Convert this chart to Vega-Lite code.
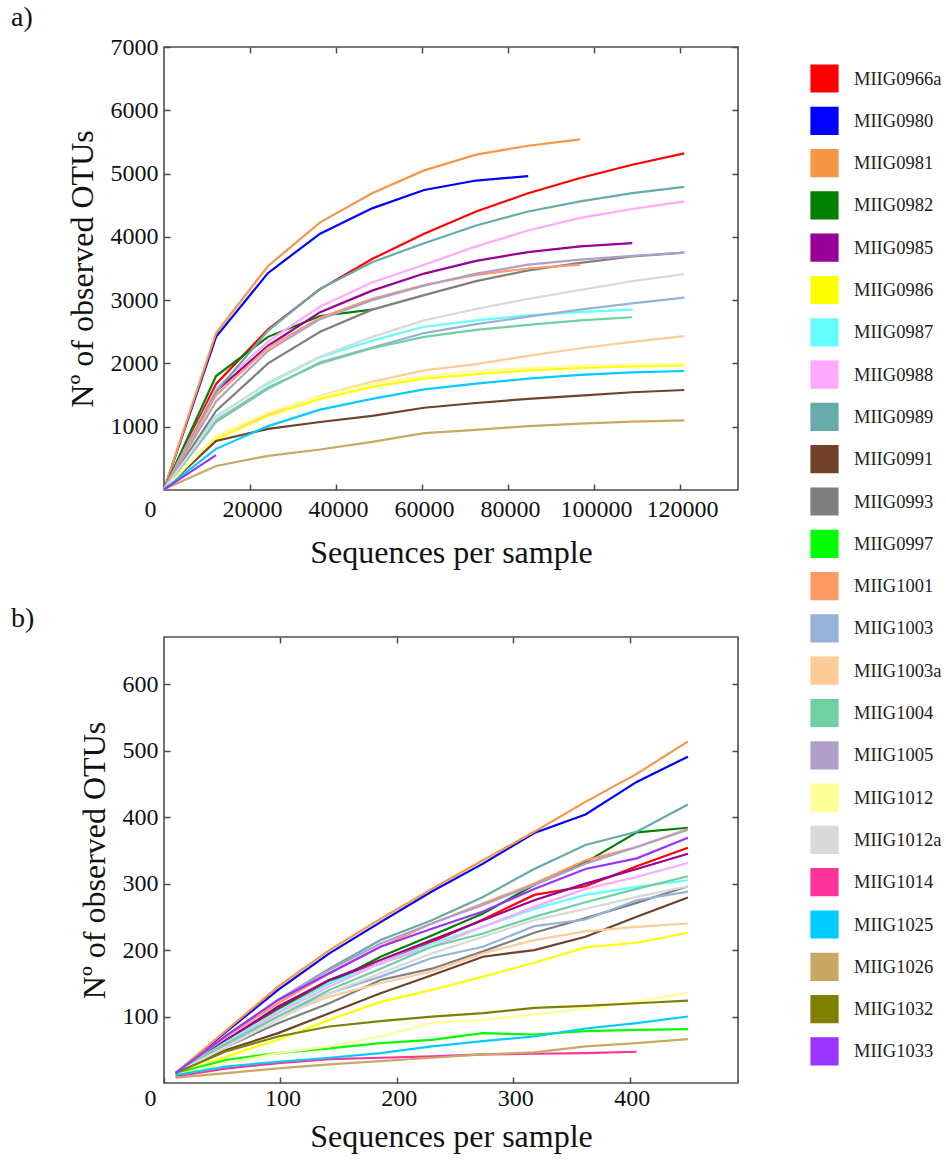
{
"$schema": "https://vega.github.io/schema/vega-lite/v6.json",
"padding": {"left": 10, "top": 3, "right": 2, "bottom": 2},
"bounds": "flush",
"spacing": 147,
"config": {
 "font": "Liberation Serif",
 "view": {"stroke": "#4d4d4d", "strokeWidth": 1.6},
 "axis": {"labelFont": "Liberation Serif", "labelFontSize": 24, "labelColor": "#111", "titleFont": "Liberation Serif", "titleFontSize": 32, "titleFontWeight": "normal", "titleColor": "#111", "grid": false, "domain": false, "tickColor": "#4d4d4d", "tickSize": -6, "tickWidth": 1.5, "labelFlush": false, "labelOverlap": false},
 "legend": {"title": null, "orient": "none", "legendX": 646, "legendY": 17, "symbolType": "M-1,-1H1V1H-1Z M-0.9,-0.9H0.9V0.9H-0.9Z M-0.8,-0.8H0.8V0.8H-0.8Z M-0.7,-0.7H0.7V0.7H-0.7Z M-0.6,-0.6H0.6V0.6H-0.6Z M-0.5,-0.5H0.5V0.5H-0.5Z M-0.4,-0.4H0.4V0.4H-0.4Z M-0.3,-0.3H0.3V0.3H-0.3Z M-0.2,-0.2H0.2V0.2H-0.2Z M-0.1,-0.1H0.1V0.1H-0.1Z M-0.03,0H0.03", "symbolSize": 676, "labelFont": "Liberation Serif", "labelFontSize": 18.5, "labelColor": "#222", "labelOffset": 15, "rowPadding": 7.3, "padding": 0},
 "title": {"font": "Liberation Serif", "fontSize": 28, "fontWeight": "normal", "anchor": "start", "frame": "group", "dx": -153, "dy": -4, "offset": -1, "color": "#111"},
 "line": {"strokeWidth": 2.2}
},
"datasets": {
"a": [
{"s":"MIIG0966a","x":10,"y":10},{"s":"MIIG0966a","x":12109,"y":1675},{"s":"MIIG0966a","x":24208,"y":2540},{"s":"MIIG0966a","x":36307,"y":3175},{"s":"MIIG0966a","x":48406,"y":3650},{"s":"MIIG0966a","x":60505,"y":4050},{"s":"MIIG0966a","x":72604,"y":4400},{"s":"MIIG0966a","x":84703,"y":4690},{"s":"MIIG0966a","x":96802,"y":4930},{"s":"MIIG0966a","x":108901,"y":5140},{"s":"MIIG0966a","x":121000,"y":5320},
{"s":"MIIG0980","x":10,"y":10},{"s":"MIIG0980","x":12109,"y":2420},{"s":"MIIG0980","x":24208,"y":3430},{"s":"MIIG0980","x":36307,"y":4050},{"s":"MIIG0980","x":48406,"y":4450},{"s":"MIIG0980","x":60505,"y":4740},{"s":"MIIG0980","x":72604,"y":4890},{"s":"MIIG0980","x":84703,"y":4960},
{"s":"MIIG0981","x":10,"y":10},{"s":"MIIG0981","x":12109,"y":2480},{"s":"MIIG0981","x":24208,"y":3540},{"s":"MIIG0981","x":36307,"y":4230},{"s":"MIIG0981","x":48406,"y":4690},{"s":"MIIG0981","x":60505,"y":5050},{"s":"MIIG0981","x":72604,"y":5300},{"s":"MIIG0981","x":84703,"y":5440},{"s":"MIIG0981","x":96802,"y":5540},
{"s":"MIIG0982","x":10,"y":10},{"s":"MIIG0982","x":12109,"y":1800},{"s":"MIIG0982","x":24208,"y":2420},{"s":"MIIG0982","x":36307,"y":2750},{"s":"MIIG0982","x":48406,"y":2850},
{"s":"MIIG0985","x":10,"y":10},{"s":"MIIG0985","x":12109,"y":1560},{"s":"MIIG0985","x":24208,"y":2280},{"s":"MIIG0985","x":36307,"y":2810},{"s":"MIIG0985","x":48406,"y":3150},{"s":"MIIG0985","x":60505,"y":3420},{"s":"MIIG0985","x":72604,"y":3620},{"s":"MIIG0985","x":84703,"y":3760},{"s":"MIIG0985","x":96802,"y":3850},{"s":"MIIG0985","x":108901,"y":3900},
{"s":"MIIG0986","x":10,"y":10},{"s":"MIIG0986","x":12109,"y":800},{"s":"MIIG0986","x":24208,"y":1170},{"s":"MIIG0986","x":36307,"y":1440},{"s":"MIIG0986","x":48406,"y":1630},{"s":"MIIG0986","x":60505,"y":1760},{"s":"MIIG0986","x":72604,"y":1830},{"s":"MIIG0986","x":84703,"y":1890},{"s":"MIIG0986","x":96802,"y":1930},{"s":"MIIG0986","x":108901,"y":1955},{"s":"MIIG0986","x":121000,"y":1970},
{"s":"MIIG0987","x":10,"y":10},{"s":"MIIG0987","x":12109,"y":1170},{"s":"MIIG0987","x":24208,"y":1680},{"s":"MIIG0987","x":36307,"y":2100},{"s":"MIIG0987","x":48406,"y":2360},{"s":"MIIG0987","x":60505,"y":2580},{"s":"MIIG0987","x":72604,"y":2680},{"s":"MIIG0987","x":84703,"y":2760},{"s":"MIIG0987","x":96802,"y":2810},{"s":"MIIG0987","x":108901,"y":2850},
{"s":"MIIG0988","x":10,"y":10},{"s":"MIIG0988","x":12109,"y":1600},{"s":"MIIG0988","x":24208,"y":2350},{"s":"MIIG0988","x":36307,"y":2900},{"s":"MIIG0988","x":48406,"y":3280},{"s":"MIIG0988","x":60505,"y":3560},{"s":"MIIG0988","x":72604,"y":3850},{"s":"MIIG0988","x":84703,"y":4100},{"s":"MIIG0988","x":96802,"y":4300},{"s":"MIIG0988","x":108901,"y":4440},{"s":"MIIG0988","x":121000,"y":4560},
{"s":"MIIG0989","x":10,"y":10},{"s":"MIIG0989","x":12109,"y":1550},{"s":"MIIG0989","x":24208,"y":2520},{"s":"MIIG0989","x":36307,"y":3180},{"s":"MIIG0989","x":48406,"y":3600},{"s":"MIIG0989","x":60505,"y":3900},{"s":"MIIG0989","x":72604,"y":4180},{"s":"MIIG0989","x":84703,"y":4400},{"s":"MIIG0989","x":96802,"y":4560},{"s":"MIIG0989","x":108901,"y":4690},{"s":"MIIG0989","x":121000,"y":4790},
{"s":"MIIG0991","x":10,"y":10},{"s":"MIIG0991","x":12109,"y":775},{"s":"MIIG0991","x":24208,"y":965},{"s":"MIIG0991","x":36307,"y":1075},{"s":"MIIG0991","x":48406,"y":1170},{"s":"MIIG0991","x":60505,"y":1300},{"s":"MIIG0991","x":72604,"y":1375},{"s":"MIIG0991","x":84703,"y":1440},{"s":"MIIG0991","x":96802,"y":1490},{"s":"MIIG0991","x":108901,"y":1545},{"s":"MIIG0991","x":121000,"y":1580},
{"s":"MIIG0993","x":10,"y":10},{"s":"MIIG0993","x":12109,"y":1250},{"s":"MIIG0993","x":24208,"y":2000},{"s":"MIIG0993","x":36307,"y":2500},{"s":"MIIG0993","x":48406,"y":2850},{"s":"MIIG0993","x":60505,"y":3080},{"s":"MIIG0993","x":72604,"y":3300},{"s":"MIIG0993","x":84703,"y":3470},{"s":"MIIG0993","x":96802,"y":3590},{"s":"MIIG0993","x":108901,"y":3690},{"s":"MIIG0993","x":121000,"y":3750},
{"s":"MIIG1001","x":10,"y":10},{"s":"MIIG1001","x":12109,"y":1500},{"s":"MIIG1001","x":24208,"y":2250},{"s":"MIIG1001","x":36307,"y":2720},{"s":"MIIG1001","x":48406,"y":3020},{"s":"MIIG1001","x":60505,"y":3240},{"s":"MIIG1001","x":72604,"y":3400},{"s":"MIIG1001","x":84703,"y":3500},{"s":"MIIG1001","x":96802,"y":3560},
{"s":"MIIG1003","x":10,"y":10},{"s":"MIIG1003","x":12109,"y":1075},{"s":"MIIG1003","x":24208,"y":1600},{"s":"MIIG1003","x":36307,"y":2020},{"s":"MIIG1003","x":48406,"y":2250},{"s":"MIIG1003","x":60505,"y":2480},{"s":"MIIG1003","x":72604,"y":2620},{"s":"MIIG1003","x":84703,"y":2740},{"s":"MIIG1003","x":96802,"y":2850},{"s":"MIIG1003","x":108901,"y":2950},{"s":"MIIG1003","x":121000,"y":3040},
{"s":"MIIG1003a","x":10,"y":10},{"s":"MIIG1003a","x":12109,"y":850},{"s":"MIIG1003a","x":24208,"y":1200},{"s":"MIIG1003a","x":36307,"y":1490},{"s":"MIIG1003a","x":48406,"y":1710},{"s":"MIIG1003a","x":60505,"y":1890},{"s":"MIIG1003a","x":72604,"y":1990},{"s":"MIIG1003a","x":84703,"y":2120},{"s":"MIIG1003a","x":96802,"y":2240},{"s":"MIIG1003a","x":108901,"y":2340},{"s":"MIIG1003a","x":121000,"y":2430},
{"s":"MIIG1004","x":10,"y":10},{"s":"MIIG1004","x":12109,"y":1100},{"s":"MIIG1004","x":24208,"y":1620},{"s":"MIIG1004","x":36307,"y":2000},{"s":"MIIG1004","x":48406,"y":2240},{"s":"MIIG1004","x":60505,"y":2420},{"s":"MIIG1004","x":72604,"y":2530},{"s":"MIIG1004","x":84703,"y":2610},{"s":"MIIG1004","x":96802,"y":2680},{"s":"MIIG1004","x":108901,"y":2730},
{"s":"MIIG1005","x":10,"y":10},{"s":"MIIG1005","x":12109,"y":1400},{"s":"MIIG1005","x":24208,"y":2200},{"s":"MIIG1005","x":36307,"y":2700},{"s":"MIIG1005","x":48406,"y":3000},{"s":"MIIG1005","x":60505,"y":3230},{"s":"MIIG1005","x":72604,"y":3420},{"s":"MIIG1005","x":84703,"y":3560},{"s":"MIIG1005","x":96802,"y":3640},{"s":"MIIG1005","x":108901,"y":3700},{"s":"MIIG1005","x":121000,"y":3750},
{"s":"MIIG1012","x":10,"y":10},{"s":"MIIG1012","x":12109,"y":850},{"s":"MIIG1012","x":24208,"y":1230},{"s":"MIIG1012","x":36307,"y":1480},{"s":"MIIG1012","x":48406,"y":1680},{"s":"MIIG1012","x":60505,"y":1800},{"s":"MIIG1012","x":72604,"y":1880},{"s":"MIIG1012","x":84703,"y":1930},{"s":"MIIG1012","x":96802,"y":1960},{"s":"MIIG1012","x":108901,"y":1980},{"s":"MIIG1012","x":121000,"y":1995},
{"s":"MIIG1012a","x":10,"y":10},{"s":"MIIG1012a","x":12109,"y":1150},{"s":"MIIG1012a","x":24208,"y":1700},{"s":"MIIG1012a","x":36307,"y":2110},{"s":"MIIG1012a","x":48406,"y":2420},{"s":"MIIG1012a","x":60505,"y":2680},{"s":"MIIG1012a","x":72604,"y":2860},{"s":"MIIG1012a","x":84703,"y":3020},{"s":"MIIG1012a","x":96802,"y":3160},{"s":"MIIG1012a","x":108901,"y":3300},{"s":"MIIG1012a","x":121000,"y":3410},
{"s":"MIIG1025","x":10,"y":10},{"s":"MIIG1025","x":12109,"y":650},{"s":"MIIG1025","x":24208,"y":1010},{"s":"MIIG1025","x":36307,"y":1270},{"s":"MIIG1025","x":48406,"y":1440},{"s":"MIIG1025","x":60505,"y":1590},{"s":"MIIG1025","x":72604,"y":1680},{"s":"MIIG1025","x":84703,"y":1760},{"s":"MIIG1025","x":96802,"y":1820},{"s":"MIIG1025","x":108901,"y":1860},{"s":"MIIG1025","x":121000,"y":1880},
{"s":"MIIG1026","x":10,"y":10},{"s":"MIIG1026","x":12109,"y":380},{"s":"MIIG1026","x":24208,"y":540},{"s":"MIIG1026","x":36307,"y":640},{"s":"MIIG1026","x":48406,"y":760},{"s":"MIIG1026","x":60505,"y":900},{"s":"MIIG1026","x":72604,"y":950},{"s":"MIIG1026","x":84703,"y":1010},{"s":"MIIG1026","x":96802,"y":1050},{"s":"MIIG1026","x":108901,"y":1080},{"s":"MIIG1026","x":121000,"y":1100},
{"s":"MIIG1033","x":10,"y":10},{"s":"MIIG1033","x":12109,"y":550}
],
"b": [
{"s":"MIIG0966a","x":10,"y":15},{"s":"MIIG0966a","x":54,"y":65},{"s":"MIIG0966a","x":98,"y":112},{"s":"MIIG0966a","x":142,"y":155},{"s":"MIIG0966a","x":186,"y":180},{"s":"MIIG0966a","x":230,"y":212},{"s":"MIIG0966a","x":274,"y":246},{"s":"MIIG0966a","x":318,"y":283},{"s":"MIIG0966a","x":362,"y":296},{"s":"MIIG0966a","x":406,"y":326},{"s":"MIIG0966a","x":450,"y":354},
{"s":"MIIG0980","x":10,"y":15},{"s":"MIIG0980","x":54,"y":78},{"s":"MIIG0980","x":98,"y":140},{"s":"MIIG0980","x":142,"y":195},{"s":"MIIG0980","x":186,"y":242},{"s":"MIIG0980","x":230,"y":288},{"s":"MIIG0980","x":274,"y":330},{"s":"MIIG0980","x":318,"y":376},{"s":"MIIG0980","x":362,"y":404},{"s":"MIIG0980","x":406,"y":453},{"s":"MIIG0980","x":450,"y":491},
{"s":"MIIG0981","x":10,"y":15},{"s":"MIIG0981","x":54,"y":80},{"s":"MIIG0981","x":98,"y":145},{"s":"MIIG0981","x":142,"y":200},{"s":"MIIG0981","x":186,"y":247},{"s":"MIIG0981","x":230,"y":292},{"s":"MIIG0981","x":274,"y":335},{"s":"MIIG0981","x":318,"y":378},{"s":"MIIG0981","x":362,"y":423},{"s":"MIIG0981","x":406,"y":465},{"s":"MIIG0981","x":450,"y":514},
{"s":"MIIG0982","x":10,"y":15},{"s":"MIIG0982","x":54,"y":60},{"s":"MIIG0982","x":98,"y":110},{"s":"MIIG0982","x":142,"y":150},{"s":"MIIG0982","x":186,"y":190},{"s":"MIIG0982","x":230,"y":222},{"s":"MIIG0982","x":274,"y":255},{"s":"MIIG0982","x":318,"y":298},{"s":"MIIG0982","x":362,"y":332},{"s":"MIIG0982","x":406,"y":377},{"s":"MIIG0982","x":450,"y":384},
{"s":"MIIG0985","x":10,"y":15},{"s":"MIIG0985","x":54,"y":65},{"s":"MIIG0985","x":98,"y":115},{"s":"MIIG0985","x":142,"y":155},{"s":"MIIG0985","x":186,"y":185},{"s":"MIIG0985","x":230,"y":215},{"s":"MIIG0985","x":274,"y":245},{"s":"MIIG0985","x":318,"y":275},{"s":"MIIG0985","x":362,"y":300},{"s":"MIIG0985","x":406,"y":322},{"s":"MIIG0985","x":450,"y":345},
{"s":"MIIG0986","x":10,"y":12},{"s":"MIIG0986","x":54,"y":40},{"s":"MIIG0986","x":98,"y":65},{"s":"MIIG0986","x":142,"y":95},{"s":"MIIG0986","x":186,"y":122},{"s":"MIIG0986","x":230,"y":140},{"s":"MIIG0986","x":274,"y":160},{"s":"MIIG0986","x":318,"y":181},{"s":"MIIG0986","x":362,"y":204},{"s":"MIIG0986","x":406,"y":211},{"s":"MIIG0986","x":450,"y":226},
{"s":"MIIG0987","x":10,"y":15},{"s":"MIIG0987","x":54,"y":62},{"s":"MIIG0987","x":98,"y":108},{"s":"MIIG0987","x":142,"y":150},{"s":"MIIG0987","x":186,"y":180},{"s":"MIIG0987","x":230,"y":210},{"s":"MIIG0987","x":274,"y":235},{"s":"MIIG0987","x":318,"y":262},{"s":"MIIG0987","x":362,"y":283},{"s":"MIIG0987","x":406,"y":295},{"s":"MIIG0987","x":450,"y":305},
{"s":"MIIG0988","x":10,"y":15},{"s":"MIIG0988","x":54,"y":60},{"s":"MIIG0988","x":98,"y":105},{"s":"MIIG0988","x":142,"y":145},{"s":"MIIG0988","x":186,"y":180},{"s":"MIIG0988","x":230,"y":205},{"s":"MIIG0988","x":274,"y":235},{"s":"MIIG0988","x":318,"y":265},{"s":"MIIG0988","x":362,"y":292},{"s":"MIIG0988","x":406,"y":310},{"s":"MIIG0988","x":450,"y":331},
{"s":"MIIG0989","x":10,"y":15},{"s":"MIIG0989","x":54,"y":70},{"s":"MIIG0989","x":98,"y":125},{"s":"MIIG0989","x":142,"y":172},{"s":"MIIG0989","x":186,"y":215},{"s":"MIIG0989","x":230,"y":245},{"s":"MIIG0989","x":274,"y":280},{"s":"MIIG0989","x":318,"y":322},{"s":"MIIG0989","x":362,"y":358},{"s":"MIIG0989","x":406,"y":378},{"s":"MIIG0989","x":450,"y":419},
{"s":"MIIG0991","x":10,"y":15},{"s":"MIIG0991","x":54,"y":50},{"s":"MIIG0991","x":98,"y":75},{"s":"MIIG0991","x":142,"y":105},{"s":"MIIG0991","x":186,"y":135},{"s":"MIIG0991","x":230,"y":162},{"s":"MIIG0991","x":274,"y":190},{"s":"MIIG0991","x":318,"y":200},{"s":"MIIG0991","x":362,"y":220},{"s":"MIIG0991","x":406,"y":250},{"s":"MIIG0991","x":450,"y":279},
{"s":"MIIG0993","x":10,"y":15},{"s":"MIIG0993","x":54,"y":55},{"s":"MIIG0993","x":98,"y":90},{"s":"MIIG0993","x":142,"y":120},{"s":"MIIG0993","x":186,"y":155},{"s":"MIIG0993","x":230,"y":172},{"s":"MIIG0993","x":274,"y":198},{"s":"MIIG0993","x":318,"y":226},{"s":"MIIG0993","x":362,"y":248},{"s":"MIIG0993","x":406,"y":271},{"s":"MIIG0993","x":450,"y":296},
{"s":"MIIG0997","x":10,"y":15},{"s":"MIIG0997","x":54,"y":35},{"s":"MIIG0997","x":98,"y":45},{"s":"MIIG0997","x":142,"y":52},{"s":"MIIG0997","x":186,"y":60},{"s":"MIIG0997","x":230,"y":65},{"s":"MIIG0997","x":274,"y":75},{"s":"MIIG0997","x":318,"y":73},{"s":"MIIG0997","x":362,"y":78},{"s":"MIIG0997","x":406,"y":80},{"s":"MIIG0997","x":450,"y":81},
{"s":"MIIG1001","x":10,"y":15},{"s":"MIIG1001","x":54,"y":70},{"s":"MIIG1001","x":98,"y":120},{"s":"MIIG1001","x":142,"y":165},{"s":"MIIG1001","x":186,"y":205},{"s":"MIIG1001","x":230,"y":240},{"s":"MIIG1001","x":274,"y":270},{"s":"MIIG1001","x":318,"y":300},{"s":"MIIG1001","x":362,"y":335},{"s":"MIIG1001","x":406,"y":355},{"s":"MIIG1001","x":450,"y":382},
{"s":"MIIG1003","x":10,"y":15},{"s":"MIIG1003","x":54,"y":58},{"s":"MIIG1003","x":98,"y":100},{"s":"MIIG1003","x":142,"y":135},{"s":"MIIG1003","x":186,"y":160},{"s":"MIIG1003","x":230,"y":188},{"s":"MIIG1003","x":274,"y":205},{"s":"MIIG1003","x":318,"y":236},{"s":"MIIG1003","x":362,"y":246},{"s":"MIIG1003","x":406,"y":275},{"s":"MIIG1003","x":450,"y":288},
{"s":"MIIG1003a","x":10,"y":15},{"s":"MIIG1003a","x":54,"y":60},{"s":"MIIG1003a","x":98,"y":100},{"s":"MIIG1003a","x":142,"y":130},{"s":"MIIG1003a","x":186,"y":150},{"s":"MIIG1003a","x":230,"y":168},{"s":"MIIG1003a","x":274,"y":195},{"s":"MIIG1003a","x":318,"y":215},{"s":"MIIG1003a","x":362,"y":228},{"s":"MIIG1003a","x":406,"y":235},{"s":"MIIG1003a","x":450,"y":240},
{"s":"MIIG1004","x":10,"y":15},{"s":"MIIG1004","x":54,"y":60},{"s":"MIIG1004","x":98,"y":100},{"s":"MIIG1004","x":142,"y":140},{"s":"MIIG1004","x":186,"y":172},{"s":"MIIG1004","x":230,"y":205},{"s":"MIIG1004","x":274,"y":225},{"s":"MIIG1004","x":318,"y":250},{"s":"MIIG1004","x":362,"y":272},{"s":"MIIG1004","x":406,"y":292},{"s":"MIIG1004","x":450,"y":311},
{"s":"MIIG1005","x":10,"y":15},{"s":"MIIG1005","x":54,"y":72},{"s":"MIIG1005","x":98,"y":125},{"s":"MIIG1005","x":142,"y":170},{"s":"MIIG1005","x":186,"y":210},{"s":"MIIG1005","x":230,"y":240},{"s":"MIIG1005","x":274,"y":268},{"s":"MIIG1005","x":318,"y":298},{"s":"MIIG1005","x":362,"y":330},{"s":"MIIG1005","x":406,"y":355},{"s":"MIIG1005","x":450,"y":381},
{"s":"MIIG1012","x":10,"y":12},{"s":"MIIG1012","x":54,"y":30},{"s":"MIIG1012","x":98,"y":45},{"s":"MIIG1012","x":142,"y":55},{"s":"MIIG1012","x":186,"y":70},{"s":"MIIG1012","x":230,"y":90},{"s":"MIIG1012","x":274,"y":95},{"s":"MIIG1012","x":318,"y":103},{"s":"MIIG1012","x":362,"y":112},{"s":"MIIG1012","x":406,"y":122},{"s":"MIIG1012","x":450,"y":136},
{"s":"MIIG1012a","x":10,"y":15},{"s":"MIIG1012a","x":54,"y":55},{"s":"MIIG1012a","x":98,"y":95},{"s":"MIIG1012a","x":142,"y":135},{"s":"MIIG1012a","x":186,"y":165},{"s":"MIIG1012a","x":230,"y":195},{"s":"MIIG1012a","x":274,"y":220},{"s":"MIIG1012a","x":318,"y":245},{"s":"MIIG1012a","x":362,"y":262},{"s":"MIIG1012a","x":406,"y":280},{"s":"MIIG1012a","x":450,"y":296},
{"s":"MIIG1014","x":10,"y":10},{"s":"MIIG1014","x":54,"y":22},{"s":"MIIG1014","x":98,"y":30},{"s":"MIIG1014","x":142,"y":36},{"s":"MIIG1014","x":186,"y":38},{"s":"MIIG1014","x":230,"y":40},{"s":"MIIG1014","x":274,"y":43},{"s":"MIIG1014","x":318,"y":44},{"s":"MIIG1014","x":362,"y":45},{"s":"MIIG1014","x":406,"y":47},
{"s":"MIIG1025","x":10,"y":12},{"s":"MIIG1025","x":54,"y":25},{"s":"MIIG1025","x":98,"y":32},{"s":"MIIG1025","x":142,"y":38},{"s":"MIIG1025","x":186,"y":45},{"s":"MIIG1025","x":230,"y":55},{"s":"MIIG1025","x":274,"y":63},{"s":"MIIG1025","x":318,"y":70},{"s":"MIIG1025","x":362,"y":82},{"s":"MIIG1025","x":406,"y":90},{"s":"MIIG1025","x":450,"y":100},
{"s":"MIIG1026","x":10,"y":8},{"s":"MIIG1026","x":54,"y":15},{"s":"MIIG1026","x":98,"y":22},{"s":"MIIG1026","x":142,"y":28},{"s":"MIIG1026","x":186,"y":33},{"s":"MIIG1026","x":230,"y":38},{"s":"MIIG1026","x":274,"y":43},{"s":"MIIG1026","x":318,"y":46},{"s":"MIIG1026","x":362,"y":55},{"s":"MIIG1026","x":406,"y":60},{"s":"MIIG1026","x":450,"y":66},
{"s":"MIIG1032","x":10,"y":15},{"s":"MIIG1032","x":54,"y":48},{"s":"MIIG1032","x":98,"y":70},{"s":"MIIG1032","x":142,"y":85},{"s":"MIIG1032","x":186,"y":93},{"s":"MIIG1032","x":230,"y":100},{"s":"MIIG1032","x":274,"y":105},{"s":"MIIG1032","x":318,"y":113},{"s":"MIIG1032","x":362,"y":116},{"s":"MIIG1032","x":406,"y":120},{"s":"MIIG1032","x":450,"y":124},
{"s":"MIIG1033","x":10,"y":15},{"s":"MIIG1033","x":54,"y":72},{"s":"MIIG1033","x":98,"y":125},{"s":"MIIG1033","x":142,"y":165},{"s":"MIIG1033","x":186,"y":205},{"s":"MIIG1033","x":230,"y":232},{"s":"MIIG1033","x":274,"y":258},{"s":"MIIG1033","x":318,"y":292},{"s":"MIIG1033","x":362,"y":322},{"s":"MIIG1033","x":406,"y":338},{"s":"MIIG1033","x":450,"y":369}
]
},
"vconcat": [
{
 "title": {"text": "a)"},
 "width": 574, "height": 443,
 "data": {"name": "a"},
 "layer": [
  {"mark": {"type": "line", "strokeWidth": 2.2},
   "encoding": {
    "x": {"field": "x", "type": "quantitative", "title": "Sequences per sample", "scale": {"domain": [0, 133500], "nice": false, "zero": false},
      "axis": {"orient": "bottom", "values": [0,20000,40000,60000,80000,100000,120000], "format": "d", "labelPadding": 13, "titlePadding": 16, "labelOffset": {"condition": {"test": "datum.value === 0", "value": -14}, "value": 2}}},
    "y": {"field": "y", "type": "quantitative", "title": "Nº of observed OTUs", "scale": {"domain": [0, 7000], "nice": false},
      "axis": {"orient": "left", "values": [1000,2000,3000,4000,5000,6000,7000], "format": "d", "labelPadding": 12, "titlePadding": 11}},
    "color": {"field": "s", "type": "nominal",
      "scale": {"domain": ["MIIG0966a","MIIG0980","MIIG0981","MIIG0982","MIIG0985","MIIG0986","MIIG0987","MIIG0988","MIIG0989","MIIG0991","MIIG0993","MIIG0997","MIIG1001","MIIG1003","MIIG1003a","MIIG1004","MIIG1005","MIIG1012","MIIG1012a","MIIG1014","MIIG1025","MIIG1026","MIIG1032","MIIG1033"],
        "range": ["#ff0000","#0000ff","#f79646","#008000","#960096","#ffff00","#66ffff","#ffaaff","#66aaaa","#6f4229","#7f7f7f","#00ff00","#ff9966","#95b3d7","#ffcc99","#70d0a0","#b0a0c8","#ffff99","#d9d9d9","#ff3399","#00ccff","#c8a864","#808000","#9933ff"]}}
   }},
  {"mark": {"type": "line", "opacity": 0},
   "encoding": {
    "x": {"field": "x", "type": "quantitative", "scale": {"domain": [0, 133500], "nice": false, "zero": false},
      "axis": {"orient": "top", "values": [20000,40000,60000,80000,100000,120000], "labels": false, "title": null}},
    "y": {"field": "y", "type": "quantitative", "scale": {"domain": [0, 7000], "nice": false},
      "axis": {"orient": "right", "values": [1000,2000,3000,4000,5000,6000,7000], "labels": false, "title": null}},
    "detail": {"field": "s"}
   }}
 ],
 "resolve": {"axis": {"x": "independent", "y": "independent"}}
},
{
 "title": {"text": "b)"},
 "width": 574, "height": 446,
 "data": {"name": "b"},
 "layer": [
  {"mark": {"type": "line", "strokeWidth": 2.2},
   "encoding": {
    "x": {"field": "x", "type": "quantitative", "title": "Sequences per sample", "scale": {"domain": [0, 493], "nice": false, "zero": false},
      "axis": {"orient": "bottom", "values": [0,100,200,300,400], "format": "d", "labelPadding": 9, "titlePadding": 11, "labelOffset": {"condition": {"test": "datum.value === 0", "value": -14}, "value": 2}}},
    "y": {"field": "y", "type": "quantitative", "title": "Nº of observed OTUs", "scale": {"domain": [0, 671], "nice": false},
      "axis": {"orient": "left", "values": [100,200,300,400,500,600], "format": "d", "labelPadding": 12, "titlePadding": 11}},
    "color": {"field": "s", "type": "nominal",
      "scale": {"domain": ["MIIG0966a","MIIG0980","MIIG0981","MIIG0982","MIIG0985","MIIG0986","MIIG0987","MIIG0988","MIIG0989","MIIG0991","MIIG0993","MIIG0997","MIIG1001","MIIG1003","MIIG1003a","MIIG1004","MIIG1005","MIIG1012","MIIG1012a","MIIG1014","MIIG1025","MIIG1026","MIIG1032","MIIG1033"],
        "range": ["#ff0000","#0000ff","#f79646","#008000","#960096","#ffff00","#66ffff","#ffaaff","#66aaaa","#6f4229","#7f7f7f","#00ff00","#ff9966","#95b3d7","#ffcc99","#70d0a0","#b0a0c8","#ffff99","#d9d9d9","#ff3399","#00ccff","#c8a864","#808000","#9933ff"]}}
   }},
  {"mark": {"type": "line", "opacity": 0},
   "encoding": {
    "x": {"field": "x", "type": "quantitative", "scale": {"domain": [0, 493], "nice": false, "zero": false},
      "axis": {"orient": "top", "values": [100,200,300,400], "labels": false, "title": null}},
    "y": {"field": "y", "type": "quantitative", "scale": {"domain": [0, 671], "nice": false},
      "axis": {"orient": "right", "values": [100,200,300,400,500,600], "labels": false, "title": null}},
    "detail": {"field": "s"}
   }}
 ],
 "resolve": {"axis": {"x": "independent", "y": "independent"}}
}
],
"resolve": {"scale": {"color": "shared"}}
}
